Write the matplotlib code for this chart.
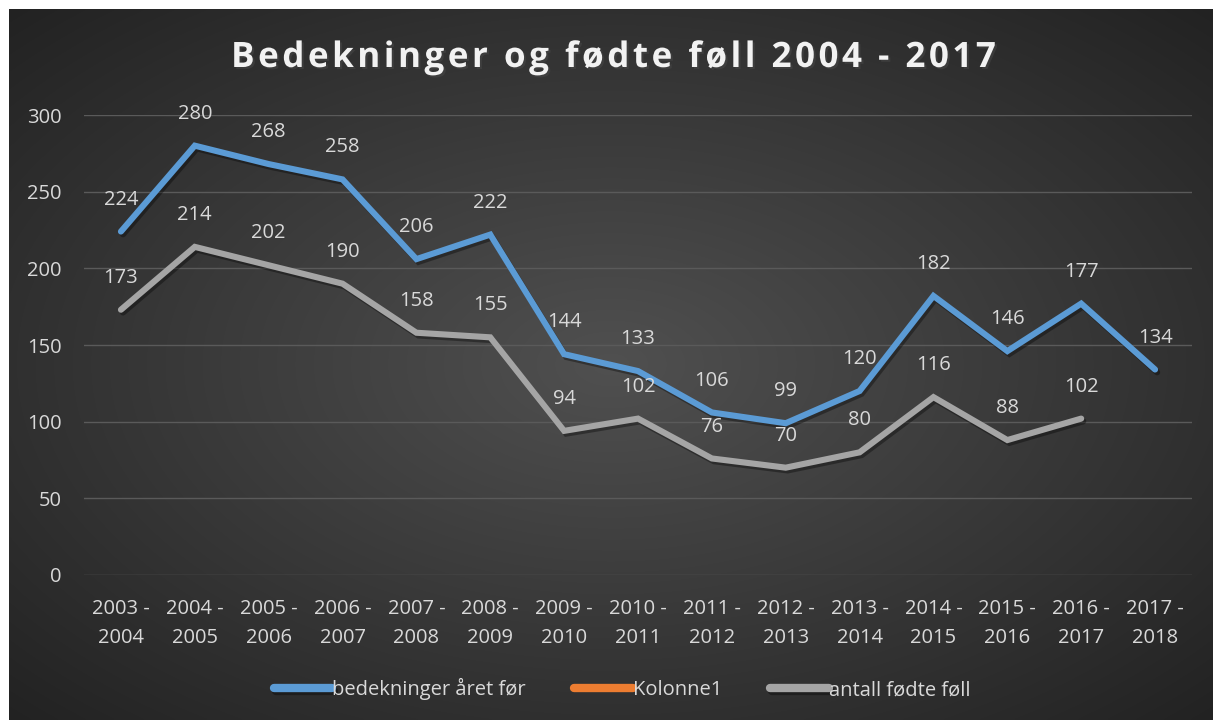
import numpy as np
import matplotlib
matplotlib.use('Agg')
import matplotlib.pyplot as plt
import matplotlib.patheffects as pe

plt.rcParams['font.family'] = ['Open Sans', 'DejaVu Sans']

# data
seasons = ['2003 -\n2004', '2004 -\n2005', '2005 -\n2006', '2006 -\n2007',
           '2007 -\n2008', '2008 -\n2009', '2009 -\n2010', '2010 -\n2011',
           '2011 -\n2012', '2012 -\n2013', '2013 -\n2014', '2014 -\n2015',
           '2015 -\n2016', '2016 -\n2017', '2017 -\n2018']
bedekninger = [224, 280, 268, 258, 206, 222, 144, 133, 106, 99, 120, 182, 146, 177, 134]
kolonne1 = []
fodte_foll = [173, 214, 202, 190, 158, 155, 94, 102, 76, 70, 80, 116, 88, 102]
y_ticks = [0, 50, 100, 150, 200, 250, 300]
title = 'Bedekninger og fødte føll 2004 - 2017'

BLUE = '#5B9BD5'
ORANGE = '#ED7D31'
GRAY = '#A5A5A5'
TXT = '#D9D9D9'
FS = 14.5

W, H = 1215, 720
fig = plt.figure(figsize=(W / 100, H / 100), dpi=100)
fig.patch.set_facecolor('white')

# dark radial gradient background
bg = fig.add_axes([9 / W, 0, (1213 - 9) / W, (H - 9) / H])
yy, xx = np.mgrid[-1:1:300j, -1:1:500j]
r = np.sqrt((xx * 0.95) ** 2 + (yy * 0.95) ** 2)
r = np.clip(r, 0, 1.35) / 1.35
c0 = np.array([0x50, 0x50, 0x50]) / 255
c1 = np.array([0x22, 0x22, 0x22]) / 255
img = c0[None, None, :] * (1 - r[..., None]) + c1[None, None, :] * r[..., None]
bg.imshow(img, aspect='auto', extent=[0, 1, 0, 1], interpolation='bilinear')
bg.set_axis_off()

ax = fig.add_axes([84 / W, 145 / H, (1192 - 84) / W, (575 - 115) / H])
ax.patch.set_alpha(0)
x = np.arange(len(seasons))

shadow = [pe.SimpleLineShadow(offset=(1.5, -2), shadow_color='black', alpha=0.35),
          pe.Normal()]
ax.plot(x, bedekninger, color=BLUE, lw=4.4, solid_joinstyle='miter',
        solid_capstyle='round', label='bedekninger året før',
        path_effects=shadow, zorder=4)
ax.plot(kolonne1, kolonne1, color=ORANGE, lw=4.4, solid_capstyle='round',
        label='Kolonne1')
ax.plot(x[:len(fodte_foll)], fodte_foll, color=GRAY, lw=4.4,
        solid_joinstyle='miter', solid_capstyle='round',
        label='antall fødte føll', path_effects=shadow, zorder=3)

for xi, v in zip(x, bedekninger):
    ax.annotate(str(v), (xi, v), xytext=(0, 23), textcoords='offset points',
                ha='center', va='center', color=TXT, fontsize=FS, zorder=5)
for xi, v in zip(x, fodte_foll):
    ax.annotate(str(v), (xi, v), xytext=(0, 23), textcoords='offset points',
                ha='center', va='center', color=TXT, fontsize=FS, zorder=5)

ax.set_xlim(-0.5, len(seasons) - 0.5)
ax.set_ylim(0, 300)
ax.set_yticks(y_ticks)
ax.set_xticks(x)
ax.set_xticklabels(seasons, linespacing=1.65)
ax.tick_params(axis='both', length=0, colors=TXT, labelsize=FS)
ax.tick_params(axis='x', pad=17)
ax.tick_params(axis='y', pad=16)
ax.grid(axis='y', color='#5a5a5a', lw=1)
ax.set_axisbelow(True)
for s in ax.spines.values():
    s.set_visible(False)

fig.text(614 / W, 1 - 58 / H, '\u200a'.join(title),
         ha='center', va='center', color='#F2F2F2', fontsize=25.2,
         fontweight='bold',
         path_effects=[pe.withSimplePatchShadow(offset=(1.5, -1.5), alpha=0.5)])

leg = fig.legend(loc='center', bbox_to_anchor=(622 / W, 1 - 689 / H), ncol=3,
                 frameon=False, fontsize=FS, labelcolor=TXT,
                 handlelength=2.9, handletextpad=0.0, columnspacing=2.4)
for h in leg.legend_handles:
    h.set_linewidth(6)
    h.set_solid_capstyle('round')

fig.savefig('out.png', dpi=100)
